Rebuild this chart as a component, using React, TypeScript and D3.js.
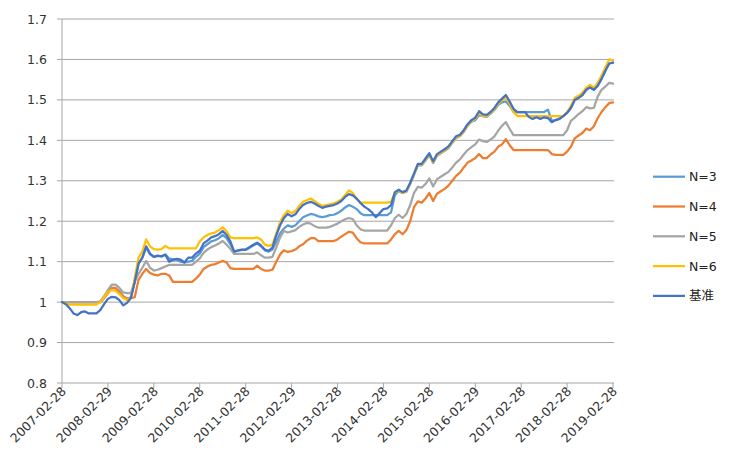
import React from "react";
import * as d3 from "d3";

const tickLabels = ["2007-02-28","2008-02-29","2009-02-28","2010-02-28","2011-02-28","2012-02-29","2013-02-28","2014-02-28","2015-02-28","2016-02-29","2017-02-28","2018-02-28","2019-02-28"];
const yTicks = [0.8, 0.9, 1.0, 1.1, 1.2, 1.3, 1.4, 1.5, 1.6, 1.7];
const seriesNames = ["N=3", "N=4", "N=5", "N=6", "基准"];
const seriesColors = ["#5B9BD5", "#ED7D31", "#A5A5A5", "#FFC000", "#4472C4"];

const n3 = [
  1.000,1.000,1.000,1.000,1.000,1.000,1.000,1.000,1.000,1.000,1.000,1.010,
  1.025,1.035,1.034,1.026,1.015,1.008,1.012,1.050,1.095,1.110,1.135,1.118,
  1.112,1.114,1.113,1.118,1.108,1.105,1.105,1.100,1.098,1.100,1.102,1.112,
  1.120,1.136,1.143,1.150,1.153,1.158,1.166,1.158,1.143,1.125,1.127,1.129,
  1.129,1.134,1.140,1.145,1.138,1.128,1.125,1.130,1.150,1.170,1.182,1.190,
  1.186,1.190,1.200,1.210,1.214,1.218,1.216,1.212,1.210,1.212,1.215,1.216,
  1.220,1.226,1.234,1.240,1.236,1.230,1.220,1.215,1.215,1.215,1.215,1.215,
  1.215,1.215,1.222,1.265,1.275,1.270,1.273,1.292,1.315,1.338,1.338,1.350,
  1.364,1.344,1.362,1.368,1.374,1.381,1.394,1.406,1.410,1.421,1.436,1.446,
  1.450,1.462,1.460,1.458,1.466,1.475,1.488,1.494,1.496,1.485,1.470,1.470,
  1.470,1.470,1.470,1.470,1.470,1.470,1.470,1.476,1.448,1.450,1.453,1.460,
  1.468,1.480,1.500,1.505,1.512,1.525,1.531,1.525,1.535,1.552,1.572,1.590,
  1.592];

const n4 = [
  1.000,1.000,1.000,1.000,1.000,1.000,1.000,1.000,1.000,1.000,1.000,1.010,
  1.022,1.035,1.035,1.025,1.012,1.010,1.010,1.012,1.055,1.070,1.082,1.072,
  1.068,1.066,1.070,1.070,1.066,1.050,1.050,1.050,1.050,1.050,1.050,1.058,
  1.068,1.082,1.088,1.092,1.094,1.098,1.102,1.098,1.084,1.082,1.082,1.082,
  1.082,1.082,1.082,1.090,1.082,1.078,1.078,1.080,1.100,1.118,1.128,1.124,
  1.126,1.130,1.138,1.143,1.152,1.158,1.158,1.151,1.151,1.151,1.151,1.151,
  1.155,1.162,1.168,1.174,1.172,1.158,1.148,1.145,1.145,1.145,1.145,1.145,
  1.145,1.145,1.155,1.168,1.176,1.168,1.178,1.200,1.235,1.249,1.246,1.256,
  1.270,1.250,1.268,1.274,1.280,1.288,1.300,1.312,1.320,1.333,1.345,1.350,
  1.356,1.366,1.356,1.356,1.365,1.372,1.384,1.390,1.403,1.388,1.376,1.376,
  1.376,1.376,1.376,1.376,1.376,1.376,1.376,1.376,1.366,1.364,1.364,1.364,
  1.372,1.384,1.405,1.412,1.418,1.429,1.425,1.435,1.455,1.470,1.482,1.492,
  1.494];

const n5 = [
  1.000,1.000,1.000,1.000,1.000,1.000,1.000,1.000,1.000,1.000,1.002,1.015,
  1.030,1.043,1.043,1.035,1.024,1.022,1.022,1.050,1.070,1.085,1.102,1.085,
  1.078,1.080,1.084,1.088,1.092,1.092,1.092,1.092,1.092,1.092,1.092,1.100,
  1.108,1.122,1.130,1.136,1.140,1.145,1.151,1.142,1.132,1.119,1.119,1.119,
  1.119,1.119,1.119,1.123,1.116,1.110,1.110,1.112,1.135,1.160,1.176,1.172,
  1.175,1.178,1.186,1.192,1.196,1.194,1.188,1.184,1.184,1.184,1.186,1.190,
  1.194,1.200,1.205,1.208,1.205,1.190,1.180,1.177,1.177,1.177,1.177,1.177,
  1.177,1.177,1.190,1.208,1.216,1.208,1.218,1.240,1.270,1.285,1.283,1.292,
  1.306,1.286,1.304,1.310,1.316,1.322,1.333,1.345,1.353,1.365,1.376,1.383,
  1.390,1.402,1.398,1.396,1.402,1.410,1.424,1.436,1.445,1.428,1.413,1.413,
  1.413,1.413,1.413,1.413,1.413,1.413,1.413,1.413,1.413,1.413,1.413,1.413,
  1.425,1.448,1.456,1.465,1.472,1.482,1.479,1.480,1.508,1.525,1.533,1.542,
  1.540];

const n6 = [
  1.000,0.996,0.994,0.994,0.994,0.994,0.994,0.994,0.994,0.994,1.000,1.012,
  1.025,1.030,1.028,1.020,1.010,1.005,1.010,1.060,1.110,1.125,1.155,1.138,
  1.131,1.130,1.131,1.139,1.133,1.133,1.133,1.133,1.133,1.133,1.133,1.133,
  1.150,1.160,1.166,1.170,1.172,1.178,1.185,1.175,1.160,1.158,1.158,1.158,
  1.158,1.158,1.158,1.160,1.155,1.142,1.139,1.142,1.170,1.198,1.215,1.226,
  1.220,1.225,1.238,1.248,1.252,1.256,1.250,1.243,1.238,1.240,1.242,1.244,
  1.248,1.254,1.265,1.276,1.270,1.255,1.246,1.246,1.246,1.246,1.246,1.246,
  1.246,1.246,1.248,1.270,1.276,1.270,1.274,1.293,1.316,1.340,1.340,1.352,
  1.365,1.345,1.363,1.369,1.375,1.382,1.395,1.407,1.411,1.422,1.437,1.447,
  1.453,1.468,1.460,1.460,1.467,1.477,1.490,1.499,1.506,1.490,1.470,1.460,
  1.460,1.460,1.460,1.460,1.460,1.460,1.460,1.460,1.460,1.460,1.460,1.460,
  1.470,1.485,1.505,1.510,1.518,1.530,1.537,1.530,1.542,1.560,1.580,1.600,
  1.598];

const bench = [
  1.000,0.995,0.985,0.972,0.968,0.975,0.977,0.972,0.972,0.972,0.980,0.995,
  1.008,1.013,1.012,1.005,0.992,0.998,1.010,1.050,1.095,1.110,1.138,1.120,
  1.112,1.115,1.113,1.117,1.100,1.105,1.107,1.105,1.098,1.110,1.110,1.120,
  1.127,1.145,1.152,1.160,1.163,1.168,1.176,1.166,1.150,1.125,1.128,1.130,
  1.130,1.136,1.142,1.147,1.140,1.130,1.127,1.135,1.165,1.190,1.208,1.218,
  1.212,1.217,1.230,1.240,1.245,1.248,1.244,1.238,1.233,1.236,1.238,1.240,
  1.244,1.250,1.260,1.267,1.264,1.256,1.245,1.236,1.230,1.222,1.210,1.220,
  1.230,1.232,1.240,1.272,1.278,1.272,1.276,1.295,1.318,1.342,1.342,1.355,
  1.368,1.348,1.366,1.372,1.378,1.385,1.398,1.410,1.414,1.425,1.440,1.450,
  1.456,1.472,1.464,1.463,1.470,1.480,1.494,1.503,1.512,1.496,1.478,1.470,
  1.470,1.470,1.458,1.453,1.457,1.453,1.457,1.455,1.445,1.450,1.453,1.460,
  1.468,1.480,1.500,1.505,1.512,1.525,1.531,1.525,1.535,1.552,1.572,1.590,
  1.592];

const allSeries = [n3, n4, n5, n6, bench];

const W = 729, H = 471;
const left = 62, right = 613, top = 19, bottom = 383;
const font = "'DejaVu Sans', Verdana, sans-serif";

export default function App() {
  const x = d3.scaleLinear().domain([0, bench.length - 1]).range([left, right]);
  const y = d3.scaleLinear().domain([0.8, 1.7]).range([bottom, top]);
  const line = d3.line<number>().x((_, i) => x(i)).y((d) => y(d));
  const fmt = (v: number) => (Math.abs(v - 1) < 1e-9 ? "1" : d3.format(".1f")(v));

  return (
    <svg width={W} height={H} style={{ position: "fixed", left: 0, top: 0, background: "#fff" }}>
      <rect x={0} y={0} width={W} height={H} fill="#fff" />
      {yTicks.map((t) => (
        <g key={t}>
          <line x1={left - 5} x2={right + 1} y1={y(t)} y2={y(t)} stroke="#a6a6a6" strokeWidth={1} />
          <text x={47} y={y(t)} dy="0.36em" textAnchor="end" fontFamily={font} fontSize={12.5} fill="#333">
            {fmt(t)}
          </text>
        </g>
      ))}
      <line x1={left} x2={left} y1={top} y2={bottom} stroke="#a6a6a6" strokeWidth={1} />
      {tickLabels.map((lab, k) => {
        const xi = x(k * 12);
        return (
          <g key={lab}>
            <line x1={xi} x2={xi} y1={bottom} y2={bottom + 5} stroke="#a6a6a6" strokeWidth={1} />
            <text
              transform={`translate(${xi + 5},${bottom + 9}) rotate(-45)`}
              textAnchor="end"
              fontFamily={font}
              fontSize={12.5}
              fill="#333"
            >
              {lab}
            </text>
          </g>
        );
      })}
      {allSeries.map((s, k) => (
        <path
          key={seriesNames[k]}
          d={line(s) || ""}
          fill="none"
          stroke={seriesColors[k]}
          strokeWidth={2.25}
          strokeLinejoin="round"
          strokeLinecap="round"
        />
      ))}
      {seriesNames.map((name, k) => {
        const ly = 176.7 + k * 29.8;
        return (
          <g key={name}>
            <line x1={653} x2={685} y1={ly} y2={ly} stroke={seriesColors[k]} strokeWidth={2.25} />
            <text x={689} y={ly} dy="0.36em" fontFamily={k === 4 ? "'Noto Sans CJK SC', sans-serif" : font} fontSize={12.5} fill="#222">
              {name}
            </text>
          </g>
        );
      })}
    </svg>
  );
}
